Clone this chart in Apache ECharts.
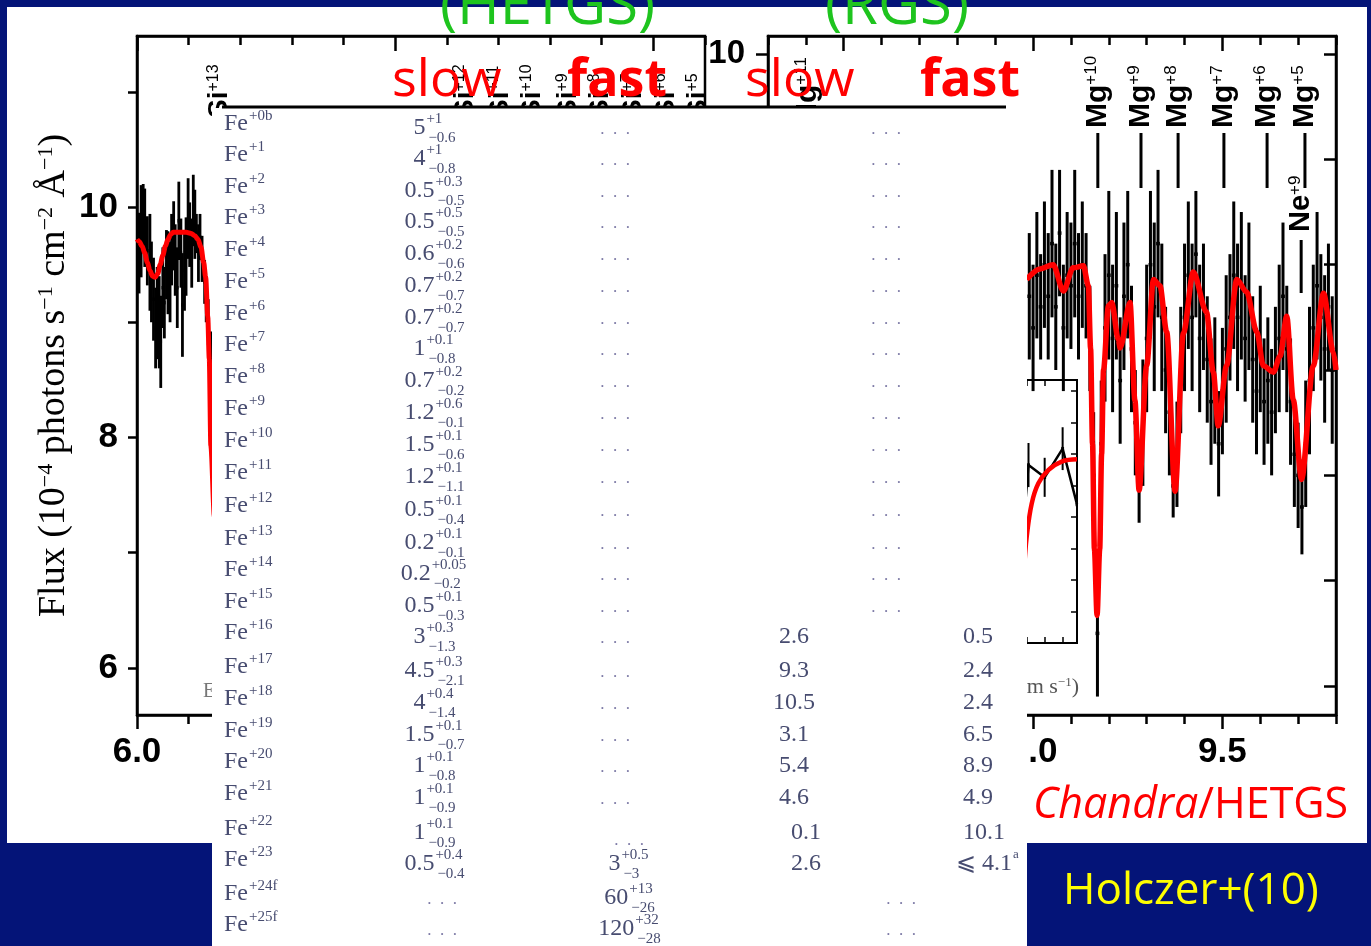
<!DOCTYPE html>
<html><head><meta charset="utf-8">
<script src="https://cdn.jsdelivr.net/npm/echarts@6/dist/echarts.min.js"></script>
<style>
html,body{margin:0;padding:0;background:#041478;width:1371px;height:946px;overflow:hidden}
#white{position:absolute;left:7px;top:7px;width:1360px;height:836px;background:#fff}
#c{position:absolute;left:0;top:0;width:1371px;height:946px}
</style></head><body><div id="white"></div><div id="c"></div>
<script>
// ================= DATA =================
// Left panel (HETGS, 6.0-7.1 A): measured flux with errors
const leftWave = [6.004,6.008,6.012,6.015,6.020,6.025,6.028,6.032,6.036,6.039,6.043,6.046,6.050,6.053,6.057,6.060,6.064,6.067,6.071,6.074,6.078,6.081,6.085,6.088,6.092,6.095,6.099,6.102,6.106,6.109,6.112,6.115,6.119,6.122,6.126,6.131,6.134,6.138,6.143,6.146,6.148,6.150];
const leftFlux = [9.60,9.79,9.90,9.82,9.62,9.52,9.35,9.20,8.95,9.08,9.00,8.83,9.30,9.17,9.50,9.43,9.35,9.63,9.75,9.54,9.30,9.88,9.60,9.15,9.45,9.57,9.90,9.76,9.60,9.97,9.85,9.77,9.60,9.74,9.55,9.35,9.20,9.00,8.55,7.85,7.20,6.50];
const leftErr  = [0.35,0.40,0.30,0.34,0.30,0.42,0.35,0.36,0.35,0.40,0.40,0.40,0.35,0.31,0.30,0.36,0.35,0.31,0.30,0.31,0.35,0.34,0.30,0.45,0.35,0.34,0.35,0.28,0.30,0.31,0.30,0.17,0.25,0.20,0.20,0.19,0.20,0.20,0.37,0.23,0.30,0.35];
// Left panel best-fit model
const leftModelWave = [6.000,6.004,6.010,6.015,6.020,6.025,6.030,6.035,6.040,6.045,6.050,6.055,6.060,6.065,6.070,6.075,6.085,6.095,6.105,6.112,6.118,6.124,6.129,6.133,6.137,6.140,6.143,6.150,6.155,6.160];
const leftModelFlux = [9.72,9.70,9.66,9.60,9.52,9.45,9.40,9.39,9.42,9.50,9.58,9.66,9.72,9.76,9.78,9.78,9.78,9.78,9.77,9.75,9.72,9.65,9.52,9.39,9.05,8.68,7.93,7.31,6.79,6.40];

// Right panel (8.3-9.8 A): measured flux with errors
const rightWave = [8.99,9.00,9.01,9.02,9.03,9.04,9.05,9.06,9.07,9.08,9.09,9.10,9.11,9.12,9.13,9.14,9.15,9.16,9.17,9.18,9.19,9.20,9.21,9.22,9.23,9.24,9.25,9.26,9.27,9.28,9.29,9.30,9.31,9.32,9.33,9.34,9.35,9.36,9.37,9.38,9.39,9.40,9.41,9.42,9.43,9.44,9.45,9.46,9.47,9.48,9.49,9.50,9.51,9.52,9.53,9.54,9.55,9.56,9.57,9.58,9.59,9.60,9.61,9.62,9.63,9.64,9.65,9.66,9.67,9.68,9.69,9.70,9.71,9.72,9.73,9.74,9.75,9.76,9.77,9.78,9.79];
const rightFlux = [7.7,7.4,7.9,7.6,8.0,7.7,8.2,7.6,8.3,7.4,7.9,7.8,8.2,7.7,8.0,7.8,7.3,6.0,4.5,6.3,7.4,7.9,7.3,7.8,6.9,7.7,8.0,7.2,6.5,5.9,6.5,7.3,8.0,7.6,8.2,7.5,7.0,6.6,5.9,6.2,7.0,7.5,7.9,7.5,8.1,7.3,7.6,7.1,6.7,6.9,6.3,6.8,7.2,7.5,7.9,7.5,7.8,7.3,7.7,7.1,6.8,7.2,6.7,6.9,6.6,7.0,7.3,7.7,7.2,6.7,6.2,6.0,5.7,6.3,6.9,7.4,7.8,7.5,7.2,7.6,7.0];
const rightErr  = [0.6,0.6,0.6,0.5,0.6,0.6,0.7,0.6,0.6,0.6,0.6,0.6,0.7,0.6,0.6,0.5,0.5,0.6,0.6,0.6,0.7,0.8,0.7,0.7,0.6,0.7,0.7,0.6,0.5,0.35,0.6,0.7,0.7,0.8,0.7,0.7,0.6,0.6,0.3,0.5,0.6,0.7,0.7,0.7,0.6,0.7,0.6,0.6,0.6,0.6,0.5,0.6,0.7,0.6,0.7,0.7,0.7,0.6,0.7,0.6,0.6,0.6,0.6,0.6,0.6,0.6,0.7,0.7,0.6,0.6,0.5,0.5,0.45,0.6,0.7,0.6,0.7,0.6,0.7,0.6,0.7];
// Right panel best-fit model
const rightModelWave = [8.983,9.018,9.053,9.080,9.106,9.133,9.146,9.152,9.157,9.162,9.169,9.176,9.181,9.186,9.199,9.208,9.225,9.230,9.256,9.269,9.280,9.300,9.318,9.335,9.353,9.375,9.397,9.423,9.458,9.476,9.489,9.511,9.538,9.564,9.591,9.608,9.635,9.652,9.670,9.687,9.709,9.740,9.767,9.793,9.800];
const rightModelFlux = [7.86,7.96,8.00,7.75,7.97,7.99,7.80,7.20,6.30,5.30,4.67,5.30,6.20,7.00,7.61,7.64,7.29,7.21,7.64,6.71,5.86,7.04,7.86,7.80,7.36,5.85,7.35,7.93,7.55,6.98,6.47,7.04,7.86,7.74,7.36,7.04,6.98,7.13,7.51,6.72,5.96,7.04,7.73,7.17,7.00];

// Inset (velocity panel)
const insetVel = [7.3,7.9,8.1,9.0,10.0,10.8];
const insetVal = [6.0,4.3,5.65,5.26,6.17,4.4];
const insetErr = [0,0,0.7,0.62,0.68,0];
const insetModelVel = [7.6,7.85,8.0,8.28,8.65,9.2,9.95,10.8];
const insetModelVal = [1.2,2.4,3.37,4.43,5.07,5.49,5.76,5.83];

// Line identifications
const siWave = [6.159,6.636,6.703,6.766,6.835,6.897,6.961,7.025,7.087];
const siCharge = ['+13','+12','+11','+10','+9','+8','+7','+6','+5'];
const mgWave = [8.405,9.171,9.285,9.383,9.504,9.618,9.718];
const mgCharge = ['+11','+10','+9','+8','+7','+6','+5'];
const neWave = [9.708];
const neCharge = ['+9'];

// Column-density table
const ionCharge = ['+0b','+1','+2','+3','+4','+5','+6','+7','+8','+9','+10','+11','+12','+13','+14','+15','+16','+17','+18','+19','+20','+21','+22','+23','+24f','+25f'];
const hetgsSlowVal = ['5','4','0.5','0.5','0.6','0.7','0.7','1','0.7','1.2','1.5','1.2','0.5','0.2','0.2','0.5','3','4.5','4','1.5','1','1','1','0.5',null,null];
const hetgsSlowUp  = ['+1','+1','+0.3','+0.5','+0.2','+0.2','+0.2','+0.1','+0.2','+0.6','+0.1','+0.1','+0.1','+0.1','+0.05','+0.1','+0.3','+0.3','+0.4','+0.1','+0.1','+0.1','+0.1','+0.4',null,null];
const hetgsSlowLo  = ['−0.6','−0.8','−0.5','−0.5','−0.6','−0.7','−0.7','−0.8','−0.2','−0.1','−0.6','−1.1','−0.4','−0.1','−0.2','−0.3','−1.3','−2.1','−1.4','−0.7','−0.8','−0.9','−0.9','−0.4',null,null];
const hetgsFastVal = [null,null,null,null,null,null,null,null,null,null,null,null,null,null,null,null,null,null,null,null,null,null,null,'3','60','120'];
const hetgsFastUp  = [null,null,null,null,null,null,null,null,null,null,null,null,null,null,null,null,null,null,null,null,null,null,null,'+0.5','+13','+32'];
const hetgsFastLo  = [null,null,null,null,null,null,null,null,null,null,null,null,null,null,null,null,null,null,null,null,null,null,null,'−3','−26','−28'];
const rgsSlow = [null,null,null,null,null,null,null,null,null,null,null,null,null,null,null,null,'2.6','9.3','10.5','3.1','5.4','4.6','0.1','2.6',null,null];
const rgsFast = [null,null,null,null,null,null,null,null,null,null,null,null,null,null,null,null,'0.5','2.4','2.4','6.5','8.9','4.9','10.1','⩽ 4.1',null,null];
const rgsFastNote = [null,null,null,null,null,null,null,null,null,null,null,null,null,null,null,null,null,null,null,null,null,null,null,'a',null,null];

// ================= DRAWING =================
const F_SANS = 'Liberation Sans', F_SERIF = 'Liberation Serif', F_HAND = 'Open Sans';
const lineS = {color:'#000', width:2.5};
const chart = echarts.init(document.getElementById('c'), null, {renderer:'canvas', width:1371, height:946});

const halfFmt = v => Math.abs(v*2 - Math.round(v*2)) < 1e-6 ? v.toFixed(1) : '';
function xa(grid, pos, min, max, opt) {
  return Object.assign({gridIndex:grid, type:'value', position:pos, min:min, max:max,
    splitLine:{show:false}, axisLine:{show:true,onZero:false,lineStyle:lineS}, axisLabel:{show:false}}, opt);
}
const tickLabel = {fontSize:35, fontWeight:'bold', fontFamily:F_SANS, color:'#000'};

function errBar(hw, lw) {
  return function (params, api) {
    const x = api.value(0), c = api.value(1), e = api.value(2);
    const a = api.coord([x, c - e]), b = api.coord([x, c + e]);
    const l = api.coord([x - hw, c]), r = api.coord([x + hw, c]);
    return {type:'group', children:[
      {type:'line', shape:{x1:a[0], y1:a[1], x2:b[0], y2:b[1]}, style:{stroke:'#000', lineWidth:lw}},
      {type:'line', shape:{x1:l[0], y1:l[1], x2:r[0], y2:r[1]}, style:{stroke:'#000', lineWidth:3.5}}
    ]};
  };
}
function ionLabels(elem, charges, bottomY, size, supSize, lineTop, lineBot) {
  return function (params, api) {
    const i = params.dataIndex;
    const x = api.coord([api.value(0), api.value(1)])[0];
    const ch = [{type:'text', x:x, y:bottomY, rotation:Math.PI/2, style:{
      text: elem + '{s|' + charges[i] + '}', fontSize:size, fontWeight:'bold', fontFamily:F_SANS,
      fill:'#000', align:'left', verticalAlign:'middle',
      rich:{s:{fontSize:supSize, fontWeight:'normal', fontFamily:F_SANS, fill:'#000', verticalAlign:'top'}}}}];
    if (lineTop != null) ch.push({type:'line', shape:{x1:x, y1:lineTop, x2:x, y2:lineBot}, style:{stroke:'#000', lineWidth:3}});
    return {type:'group', children:ch};
  };
}

// ---------- table graphic ----------
const mctx = document.createElement('canvas').getContext('2d');
function tw(text, size) { mctx.font = size + 'px "' + F_SERIF + '"'; return mctx.measureText(text).width; }
const TXT = '#474c70', DOT = '#7d7aa6';
const MAIN = 24, SCR = 15;
const els = [];
function T(x, y, text, size, color, align, extra) {
  els.push(Object.assign({type:'text', x:x, y:y, z:101, style:{text:text, fontSize:size, fontFamily:F_SERIF,
    fill:color || TXT, align:align || 'left', verticalAlign:'middle'}}, extra || {}));
}
function cell(cx, y, base, up, lo) {
  const wb = tw(base, MAIN), ws = Math.max(tw(up, SCR), tw(lo, SCR));
  const x0 = cx - (wb + 2 + ws) / 2;
  T(x0, y, base, MAIN);
  T(x0 + wb + 1, y - 9, up, SCR);
  T(x0 + wb + 3, y + 10, lo, SCR);
}
function dots(cx, y) { T(cx, y + 2, '.  .  .', 17, DOT, 'center'); }

els.push({type:'rect', shape:{x:212, y:108, width:815, height:838}, style:{fill:'#fff'}, z:100});
els.push({type:'line', shape:{x1:222, y1:107, x2:1006, y2:107}, style:{stroke:'#000', lineWidth:3}, z:101});
const rowFe = [124,155,187,218,250,282,314,345,377,409,441,473,506,539,570,602,633,667,699,731,762,794,829,860,894,925];
ionCharge.forEach((q, i) => {
  const y = rowFe[i], yv = y + 4;
  T(224, y, 'Fe', MAIN);
  T(224 + tw('Fe', MAIN) + 1, y - 8, q, SCR);
  if (hetgsSlowVal[i] != null) cell(434, yv, hetgsSlowVal[i], hetgsSlowUp[i], hetgsSlowLo[i]); else dots(442, yv);
  if (hetgsFastVal[i] != null) cell(629, yv, hetgsFastVal[i], hetgsFastUp[i], hetgsFastLo[i]);
  else if (i === 22) dots(629, yv + 6); else dots(615, yv);
  const sh = i >= 22 ? 12 : 0;
  if (rgsSlow[i] != null) {
    T(794 + sh, yv, rgsSlow[i], MAIN, TXT, 'center');
    T(978 + (i >= 22 ? 6 : 0), yv, rgsFast[i], MAIN, TXT, 'center');
    if (rgsFastNote[i]) T(978 + 6 + tw(rgsFast[i], MAIN) / 2 + 1, yv - 9, rgsFastNote[i], 13);
  } else dots(i >= 24 ? 901 : 886, yv);
});

// titles / annotations
function H(x, y, text, size, color, extra) {
  els.push({type:'text', x:x, y:y, z:200, style:Object.assign({text:text, fontSize:size, fontFamily:F_HAND,
    fill:color, align:'left', verticalAlign:'middle'}, extra || {})});
}
H(440, 7, '(HETGS)', 58, '#1ec41e');
H(825, 7, '(RGS)', 58, '#1ec41e');
H(392, 81, 'slow', 52, '#ff0000');
H(567, 81, 'fast', 52, '#ff0000', {fontWeight:'bold'});
H(745, 81, 'slow', 52, '#ff0000');
H(920, 81, 'fast', 52, '#ff0000', {fontWeight:'bold'});
H(1033, 806, '{i|Chandra}/HETGS', 43, '#ff0000', {rich:{i:{fontStyle:'italic', fontSize:43, fontFamily:F_HAND, fill:'#ff0000'}}});
H(1063, 891, 'Holczer+(10)', 44, '#ffff00');
els.push({type:'text', x:203, y:692, z:50, style:{text:'E', fontSize:20, fontFamily:F_SERIF, fill:'#777', align:'left', verticalAlign:'middle'}});
els.push({type:'text', x:1079, y:687, z:50, style:{text:'Velocity (km s{s|−1})', fontSize:22, fontFamily:F_SERIF, fill:'#555', align:'right', verticalAlign:'middle',
  rich:{s:{fontSize:13, fontFamily:F_SERIF, fill:'#555', verticalAlign:'top'}}}});

const option = {
  animation:false,
  backgroundColor:'transparent',
  grid:[
    {left:137, top:36, width:568, height:679, show:true, borderColor:'#000', borderWidth:2.5},
    {left:768, top:36, width:568, height:679, show:true, borderColor:'#000', borderWidth:2.5},
    {left:883, top:380, width:194, height:263, show:true, borderColor:'#000', borderWidth:2}
  ],
  xAxis:[
    xa(0,'bottom',6.0,7.1,{interval:0.1, axisTick:{inside:false,length:9,lineStyle:lineS},
      axisLabel:Object.assign({show:true, margin:20, formatter:halfFmt}, tickLabel)}),
    xa(0,'bottom',6.0,7.1,{axisLine:{show:false}, axisTick:{inside:false,length:14,lineStyle:lineS,customValues:[6.0,6.5,7.0]}}),
    xa(0,'top',6.0,7.1,{interval:0.1, axisTick:{inside:true,length:9,lineStyle:lineS}}),
    xa(0,'top',6.0,7.1,{axisLine:{show:false}, axisTick:{inside:true,length:15,lineStyle:lineS,customValues:[6.0,6.5,7.0]}}),
    xa(1,'bottom',8.3,9.8,{interval:0.1, axisTick:{inside:false,length:9,lineStyle:lineS},
      axisLabel:Object.assign({show:true, margin:20, formatter:halfFmt}, tickLabel)}),
    xa(1,'bottom',8.3,9.8,{axisLine:{show:false}, axisTick:{inside:false,length:14,lineStyle:lineS,customValues:[8.5,9.0,9.5]}}),
    xa(1,'top',8.3,9.8,{interval:0.1, axisTick:{inside:true,length:9,lineStyle:lineS}}),
    xa(1,'top',8.3,9.8,{axisLine:{show:false}, axisTick:{inside:true,length:15,lineStyle:lineS,customValues:[8.5,9.0,9.5]}}),
    xa(2,'bottom',0,10.8,{interval:1, axisLine:{show:true,onZero:false,lineStyle:{color:'#000',width:2}}, axisTick:{inside:true,length:6,lineStyle:{color:'#000',width:1.5}}}),
    xa(2,'top',0,10.8,{interval:1, axisLine:{show:true,onZero:false,lineStyle:{color:'#000',width:2}}, axisTick:{inside:true,length:6,lineStyle:{color:'#000',width:1.5}}})
  ],
  yAxis:[
    {gridIndex:0, type:'value', position:'left', min:5.592, max:11.484, splitLine:{show:false},
      axisLine:{show:true,onZero:false,lineStyle:lineS},
      axisTick:{show:true,inside:false,length:9,lineStyle:lineS,customValues:[6,7,8,9,10,11]},
      axisLabel:Object.assign({customValues:[6,8,10], margin:19}, tickLabel),
      name:'{m|Flux (10}{s|−4}{m| photons s}{s|−1}{m| cm}{s|−2}{m| Å}{s|−1}{m|)}',
      nameLocation:'middle', nameRotate:90, nameGap:64,
      nameTextStyle:{rich:{m:{fontSize:38,fontFamily:F_SERIF,color:'#000'}, s:{fontSize:22,fontFamily:F_SERIF,color:'#000',verticalAlign:'top'}}}},
    {gridIndex:1, type:'value', position:'left', min:3.725, max:10.171, splitLine:{show:false},
      axisLine:{show:true,onZero:false,lineStyle:lineS},
      axisTick:{show:true,inside:false,length:12,lineStyle:lineS,customValues:[4,5,6,7,8,9,10]},
      axisLabel:Object.assign({customValues:[4,6,8,10], margin:23}, tickLabel, {fontSize:33})},
    {gridIndex:1, type:'value', position:'right', min:3.725, max:10.171, splitLine:{show:false},
      axisLine:{show:true,onZero:false,lineStyle:lineS},
      axisTick:{show:true,inside:true,length:12,lineStyle:lineS,customValues:[4,5,6,7,8,9,10]},
      axisLabel:{show:false}},
    {gridIndex:2, type:'value', position:'right', min:0, max:8.35, interval:1, splitLine:{show:false},
      axisLine:{show:true,onZero:false,lineStyle:{color:'#000',width:2}},
      axisTick:{show:true,inside:true,length:6,lineStyle:{color:'#000',width:1.5}}, axisLabel:{show:false}}
  ],
  graphic:{elements:els},
  series:[
    {type:'custom', name:'HETGS data (left)', xAxisIndex:0, yAxisIndex:0, z:3, clip:true,
      renderItem:errBar(0.0025, 2.8), encode:{x:0,y:1}, data:leftWave.map((w,i)=>[w,leftFlux[i],leftErr[i]])},
    {type:'line', name:'model (left)', xAxisIndex:0, yAxisIndex:0, z:4, symbol:'none', smooth:0.3, smoothMonotone:'x',
      lineStyle:{color:'#f00', width:5}, data:leftModelWave.map((w,i)=>[w,leftModelFlux[i]])},
    {type:'custom', name:'HETGS data (right)', xAxisIndex:4, yAxisIndex:1, z:3, clip:true,
      renderItem:errBar(0.005, 3), encode:{x:0,y:1}, data:rightWave.map((w,i)=>[w,rightFlux[i],rightErr[i]])},
    {type:'line', name:'model (right)', xAxisIndex:4, yAxisIndex:1, z:4, symbol:'none', smooth:0.3, smoothMonotone:'x',
      lineStyle:{color:'#f00', width:5.5}, data:rightModelWave.map((w,i)=>[w,rightModelFlux[i]])},
    {type:'line', name:'inset data', xAxisIndex:8, yAxisIndex:3, z:3, symbol:'none',
      lineStyle:{color:'#000', width:2.5}, data:insetVel.map((v,i)=>[v,insetVal[i]])},
    {type:'custom', name:'inset errors', xAxisIndex:8, yAxisIndex:3, z:3, clip:true,
      renderItem:errBar(0.08, 2), encode:{x:0,y:1}, data:insetVel.map((v,i)=>[v,insetVal[i],insetErr[i]])},
    {type:'line', name:'inset model', xAxisIndex:8, yAxisIndex:3, z:4, symbol:'none', smooth:0.4, clip:true,
      lineStyle:{color:'#f00', width:4.5}, data:insetModelVel.map((v,i)=>[v,insetModelVal[i]])},
    {type:'custom', name:'Si lines', xAxisIndex:0, yAxisIndex:0, z:6, clip:false,
      renderItem:ionLabels('Si', siCharge, 118, 28, 16, null, null), encode:{x:0,y:1}, data:siWave.map(w=>[w,8])},
    {type:'custom', name:'Mg lines', xAxisIndex:4, yAxisIndex:1, z:6, clip:false,
      renderItem:ionLabels('Mg', mgCharge, 128, 30, 17, 133, 188), encode:{x:0,y:1}, data:mgWave.map(w=>[w,8])},
    {type:'custom', name:'Ne lines', xAxisIndex:4, yAxisIndex:1, z:6, clip:false,
      renderItem:ionLabels('Ne', neCharge, 232, 29, 17, 240, 293), encode:{x:0,y:1}, data:neWave.map(w=>[w,8])}
  ]
};
chart.setOption(option);
</script></body></html>
